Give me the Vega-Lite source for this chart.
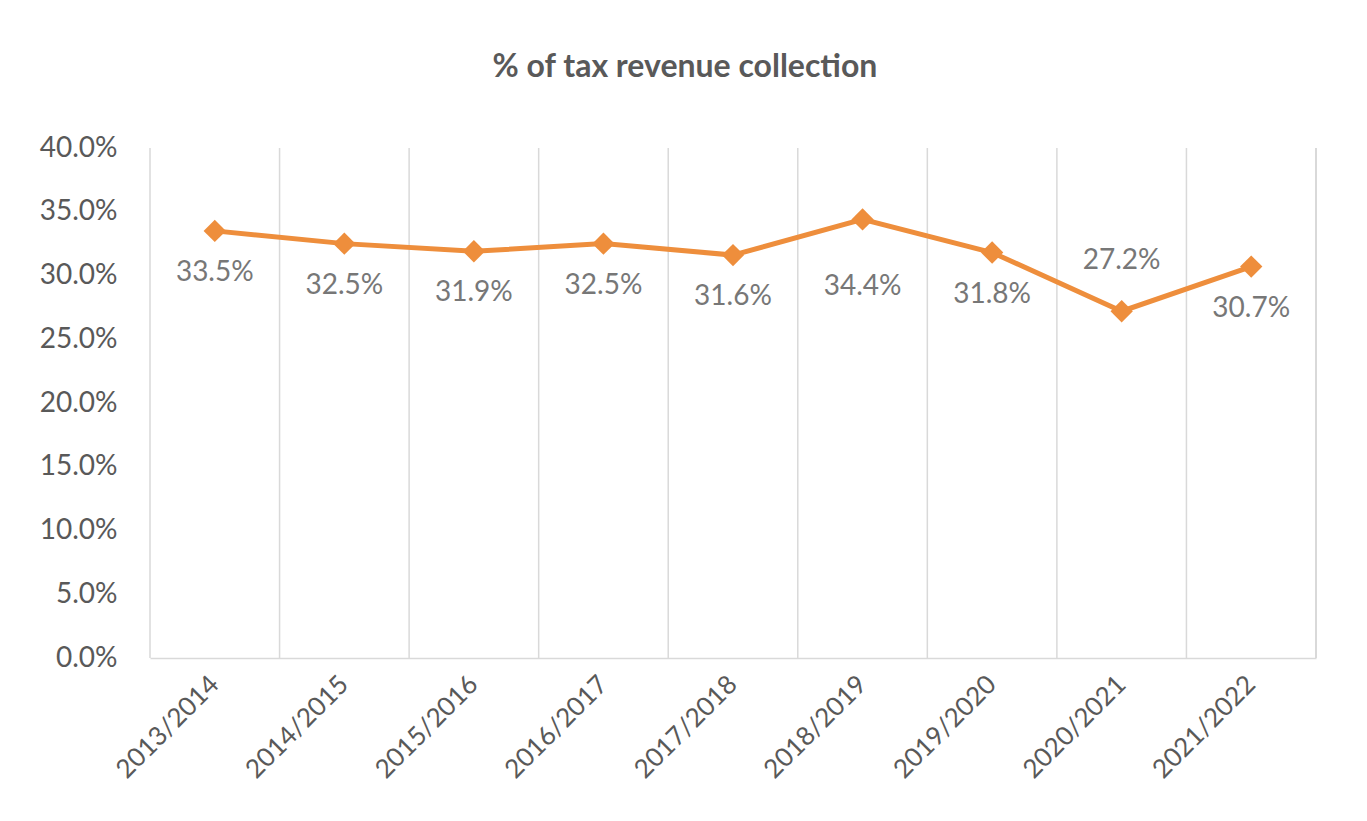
{
  "$schema": "https://vega.github.io/schema/vega-lite/v6.json",
  "width": 1166,
  "height": 510,
  "autosize": "none",
  "padding": {"left": 150, "top": 148, "right": 51, "bottom": 163},
  "background": "white",
  "config": {"view": {"stroke": null}, "font": "Lato"},
  "title": {
    "text": "% of tax revenue collection",
    "fontSize": 32,
    "fontWeight": "bold",
    "color": "#595959",
    "anchor": "middle",
    "frame": "group",
    "dx": -48,
    "offset": 50
  },
  "data": {
    "values": [
      {"year": "2013/2014", "value": 0.335},
      {"year": "2014/2015", "value": 0.325},
      {"year": "2015/2016", "value": 0.319},
      {"year": "2016/2017", "value": 0.325},
      {"year": "2017/2018", "value": 0.316},
      {"year": "2018/2019", "value": 0.344},
      {"year": "2019/2020", "value": 0.318},
      {"year": "2020/2021", "value": 0.272},
      {"year": "2021/2022", "value": 0.307}
    ]
  },
  "layer": [
    {
      "mark": {"type": "rule", "color": "#d9d9d9", "strokeWidth": 1.5},
      "encoding": {
        "x": {"field": "year", "type": "ordinal", "sort": null, "bandPosition": 0}
      }
    },
    {
      "mark": {"type": "rule", "color": "#d9d9d9", "strokeWidth": 1.5},
      "encoding": {
        "x": {"datum": "2021/2022", "type": "ordinal", "bandPosition": 1}
      }
    },
    {
      "mark": {"type": "line", "color": "#EE8E3C", "strokeWidth": 5},
      "encoding": {
        "x": {
          "field": "year",
          "type": "ordinal",
          "sort": null,
          "scale": {"type": "band", "paddingInner": 0, "paddingOuter": 0},
          "axis": {
            "title": null,
            "grid": false,
            "ticks": false,
            "domainColor": "#d9d9d9",
            "domainWidth": 1.5,
            "labelAngle": -45,
            "labelFontSize": 26,
            "labelColor": "#595959",
            "labelPadding": 22
          }
        },
        "y": {
          "field": "value",
          "type": "quantitative",
          "scale": {"domain": [0, 0.4], "nice": false},
          "axis": {
            "title": null,
            "values": [0, 0.05, 0.1, 0.15, 0.2, 0.25, 0.3, 0.35, 0.4],
            "format": ".1%",
            "grid": false,
            "ticks": false,
            "domain": false,
            "labelFontSize": 28,
            "labelColor": "#595959",
            "labelPadding": 33
          }
        }
      }
    },
    {
      "mark": {"type": "point", "shape": "diamond", "filled": true, "opacity": 1, "size": 500, "color": "#EE8E3C"},
      "encoding": {
        "x": {"field": "year", "type": "ordinal", "sort": null},
        "y": {"field": "value", "type": "quantitative"}
      }
    },
    {
      "transform": [{"filter": "datum.year !== '2018/2019' && datum.year !== '2020/2021'"}],
      "mark": {"type": "text", "fontSize": 28, "color": "#777777", "dy": 42, "baseline": "middle"},
      "encoding": {
        "x": {"field": "year", "type": "ordinal", "sort": null},
        "y": {"field": "value", "type": "quantitative"},
        "text": {"field": "value", "type": "quantitative", "format": ".1%"}
      }
    },
    {
      "transform": [{"filter": "datum.year === '2018/2019'"}],
      "mark": {"type": "text", "fontSize": 28, "color": "#777777", "dy": 68, "baseline": "middle"},
      "encoding": {
        "x": {"field": "year", "type": "ordinal", "sort": null},
        "y": {"field": "value", "type": "quantitative"},
        "text": {"field": "value", "type": "quantitative", "format": ".1%"}
      }
    },
    {
      "transform": [{"filter": "datum.year === '2020/2021'"}],
      "mark": {"type": "text", "fontSize": 28, "color": "#777777", "dy": -50, "baseline": "middle"},
      "encoding": {
        "x": {"field": "year", "type": "ordinal", "sort": null},
        "y": {"field": "value", "type": "quantitative"},
        "text": {"field": "value", "type": "quantitative", "format": ".1%"}
      }
    }
  ]
}
